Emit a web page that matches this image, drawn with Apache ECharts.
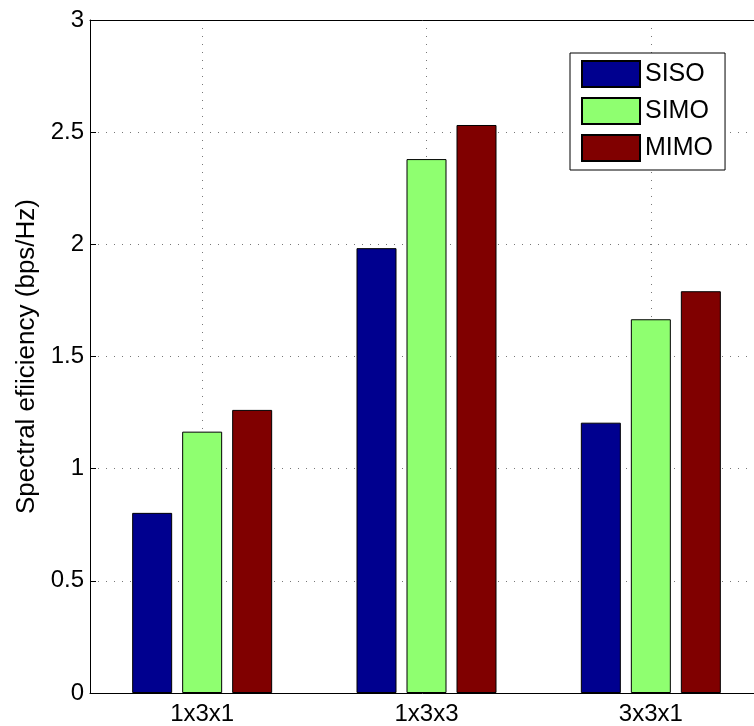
<!DOCTYPE html>
<html>
<head>
<meta charset="utf-8">
<script src="https://cdn.jsdelivr.net/npm/echarts@6/dist/echarts.min.js"></script>
<style>
html,body{margin:0;padding:0;background:#fff;}
#chart{width:754px;height:726px;}
</style>
</head>
<body>
<div id="chart"></div>
<script>
const categories = ['1x3x1', '1x3x3', '3x3x1'];
const seriesNames = ['SISO', 'SIMO', 'MIMO'];
const sisoValues = [0.803, 1.983, 1.205];
const simoValues = [1.165, 2.380, 1.666];
const mimoValues = [1.262, 2.532, 1.791];
const yTicks = [0, 0.5, 1, 1.5, 2, 2.5, 3];
const halfSteps = ['h0', 'h1', 'h2', 'h3', 'h4', 'h5', 'h6'];

const colors = ['#00008F', '#8FFF70', '#800000'];
const valuesList = [sisoValues, simoValues, mimoValues];
const FONT = 'Liberation Sans, Arial, Helvetica, sans-serif';

const chart = echarts.init(document.getElementById('chart'), null, {renderer: 'canvas'});

const series = seriesNames.map((name, i) => ({
  name: name,
  type: 'bar',
  xAxisIndex: 0,
  yAxisIndex: 0,
  data: valuesList[i],
  barWidth: 40,
  barGap: '25%',
  z: 3,
  itemStyle: {color: colors[i], borderColor: '#000', borderWidth: 1},
  emphasis: {disabled: true},
  animation: false
}));

chart.setOption({
  animation: false,
  backgroundColor: '#fff',
  grid: {left: 90, top: 20, width: 673, height: 673, containLabel: false, outerBoundsMode: 'none'},
  legend: {
    orient: 'vertical',
    align: 'left',
    left: 570,
    top: 53,
    data: seriesNames.map(n => ({name: n, icon: 'rect'})),
    itemWidth: 58,
    itemHeight: 26,
    itemGap: 9,
    padding: [7, 12, 8, 11],
    backgroundColor: '#fff',
    borderColor: '#000',
    borderWidth: 1,
    textStyle: {fontFamily: FONT, fontSize: 25, lineHeight: 26, color: '#000'},
    selectedMode: false,
    z: 10
  },
  xAxis: [
    {
      type: 'category',
      data: categories,
      position: 'bottom',
      boundaryGap: true,
      axisLine: {show: true, lineStyle: {color: '#000', width: 1}},
      axisTick: {show: true, inside: true, alignWithLabel: true, length: 6, lineStyle: {color: '#000'}},
      axisLabel: {fontFamily: FONT, fontSize: 24, color: '#000', margin: 9},
      splitLine: {show: false}
    },
    {
      type: 'category',
      data: halfSteps,
      position: 'top',
      boundaryGap: false,
      axisLine: {show: true, onZero: false, lineStyle: {color: '#000', width: 1}},
      axisTick: {show: false},
      axisLabel: {show: false},
      splitLine: {
        show: true,
        interval: function (index) { return index % 2 === 1; },
        lineStyle: {color: '#777', type: [1, 7], width: 1}
      }
    }
  ],
  yAxis: {
    type: 'value',
    min: 0,
    max: 3,
    interval: 0.5,
    name: 'Spectral efiiciency (bps/Hz)',
    nameLocation: 'middle',
    nameGap: 50,
    nameTextStyle: {fontFamily: FONT, fontSize: 26, color: '#000'},
    axisLine: {show: true, lineStyle: {color: '#000', width: 1}},
    axisTick: {show: true, inside: true, length: 6, lineStyle: {color: '#000'}},
    axisLabel: {
      fontFamily: FONT, fontSize: 24, color: '#000', margin: 6,
      customValues: yTicks,
      formatter: function (v) { return String(v); }
    },
    splitLine: {show: true, lineStyle: {color: '#777', type: [1, 7], width: 1}}
  },
  series: series
});
</script>
</body>
</html>
